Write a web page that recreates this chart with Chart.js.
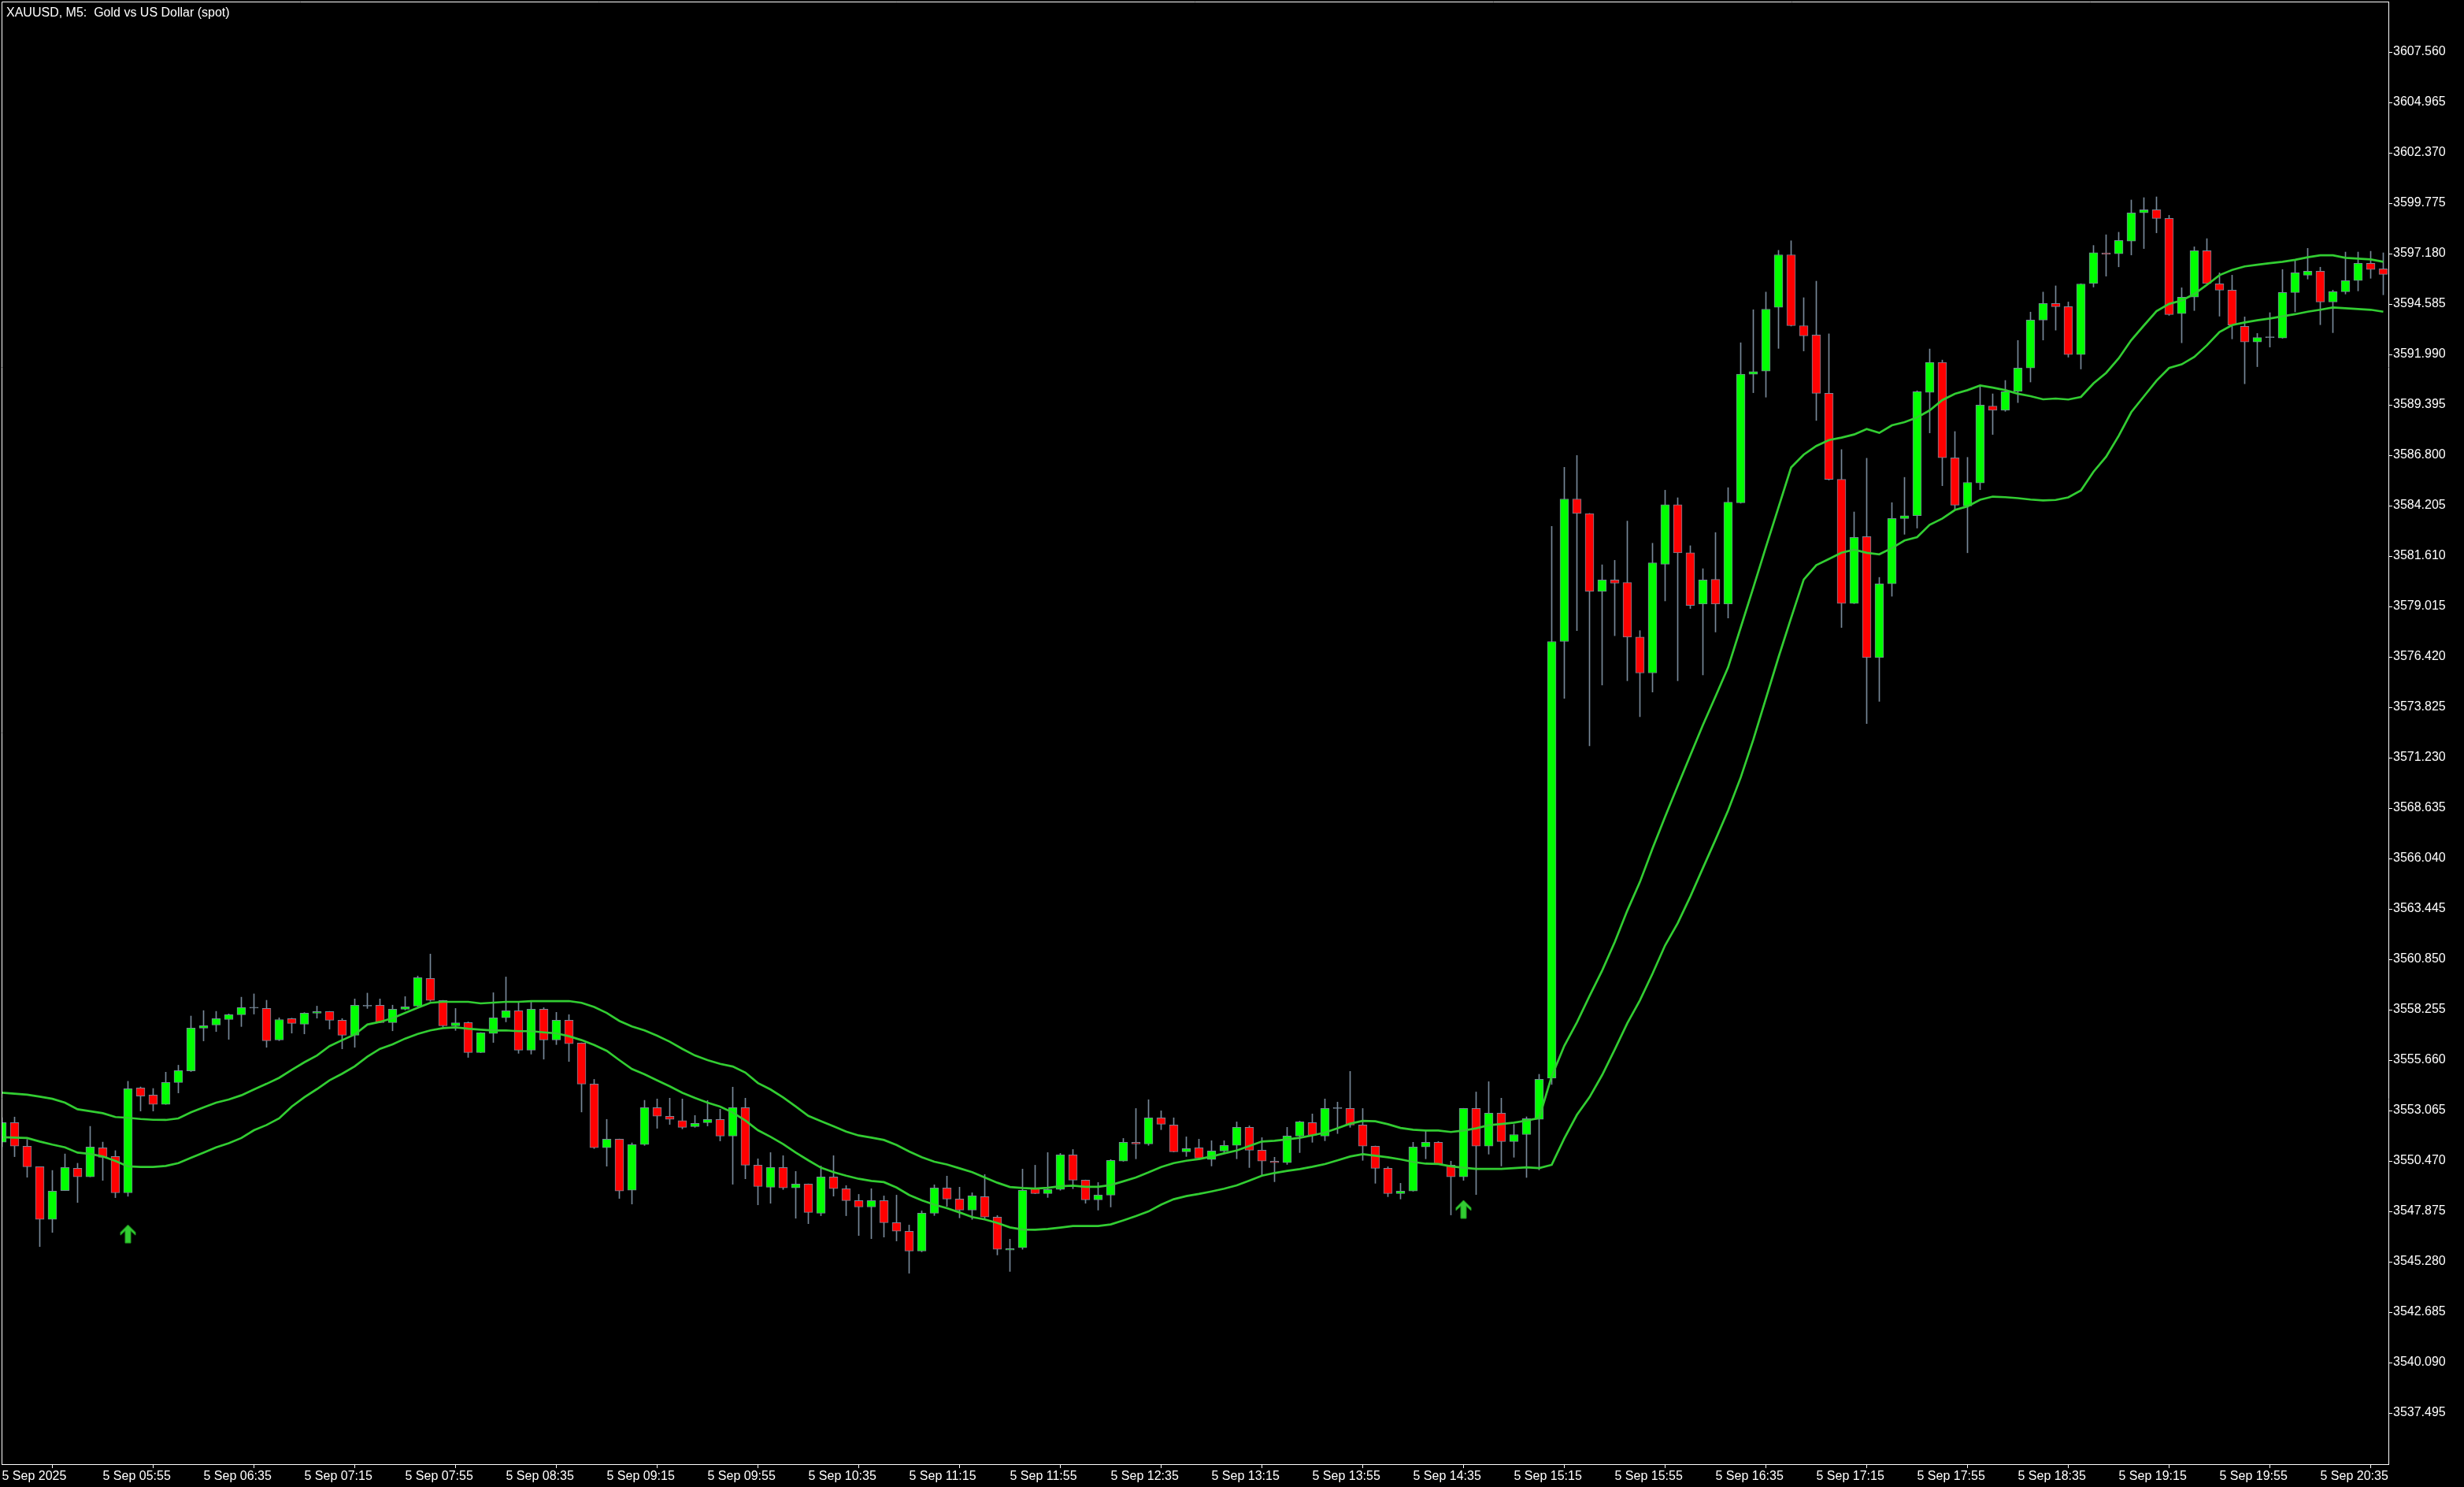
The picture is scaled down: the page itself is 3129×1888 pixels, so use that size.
<!DOCTYPE html>
<html>
<head>
<meta charset="utf-8">
<title>XAUUSD M5</title>
<script src="https://cdn.jsdelivr.net/npm/chart.js@4.4.0/dist/chart.umd.min.js"></script>
<style>
  html, body { margin: 0; padding: 0; background: #000; }
  canvas { display: block; }
</style>
</head>
<body>
<canvas id="chart" width="3129" height="1888"></canvas>
<script>
// XAUUSD M5, 5 Sep 2025 05:15 .. 21:00, one entry per bar
const opens = [
  3551.44, 3552.44, 3551.23, 3550.17, 3547.46, 3548.94, 3550.09, 3549.65, 3551.15, 3550.70,
  3548.83, 3554.23, 3553.86, 3553.38, 3554.51, 3555.11, 3557.31, 3557.47, 3557.75, 3558.00,
  3558.34, 3558.32, 3556.70, 3557.80, 3557.51, 3558.08, 3558.16, 3557.71, 3556.94, 3558.44,
  3558.49, 3557.59, 3558.28, 3558.44, 3559.86, 3558.73, 3557.43, 3557.59, 3556.05, 3557.03,
  3557.84, 3558.20, 3556.17, 3558.28, 3556.70, 3557.71, 3556.54, 3554.43, 3551.15, 3551.59,
  3548.96, 3551.31, 3553.21, 3552.77, 3552.55, 3552.24, 3552.44, 3552.61, 3551.75, 3553.21,
  3550.25, 3549.12, 3550.13, 3549.08, 3549.28, 3547.78, 3549.65, 3549.04, 3548.43, 3548.10,
  3548.43, 3547.29, 3546.85, 3545.83, 3547.78, 3549.08, 3548.51, 3547.94, 3548.63, 3547.58,
  3545.88, 3546.00, 3549.08, 3548.79, 3549.00, 3550.78, 3549.48, 3548.47, 3548.71, 3550.46,
  3551.43, 3551.35, 3552.69, 3552.32, 3550.94, 3551.15, 3550.54, 3550.98, 3551.27, 3552.20,
  3551.02, 3550.46, 3550.38, 3551.75, 3552.44, 3551.75, 3553.17, 3553.17, 3552.32, 3551.23,
  3550.09, 3548.79, 3548.92, 3551.19, 3551.43, 3550.25, 3549.65, 3553.17, 3551.23, 3552.93,
  3551.47, 3551.83, 3552.61, 3554.73, 3577.21, 3584.55, 3583.80, 3579.79, 3580.38, 3580.25,
  3577.44, 3575.59, 3581.19, 3584.25, 3581.78, 3579.14, 3580.41, 3579.14, 3584.35, 3590.97,
  3591.13, 3594.42, 3597.12, 3593.47, 3592.99, 3589.99, 3585.56, 3579.17, 3582.61, 3576.38,
  3580.18, 3583.54, 3583.69, 3590.04, 3591.58, 3586.67, 3584.19, 3585.37, 3589.33, 3589.11,
  3590.09, 3591.29, 3593.76, 3594.61, 3594.45, 3591.98, 3595.64, 3597.22, 3597.17, 3597.82,
  3599.28, 3599.44, 3598.99, 3594.09, 3594.94, 3597.33, 3595.63, 3595.30, 3593.44, 3592.63,
  3592.86, 3592.83, 3595.18, 3596.07, 3596.27, 3594.69, 3595.22, 3595.79, 3596.68, 3596.40
];
const highs = [
  3552.70, 3552.73, 3551.58, 3550.17, 3549.98, 3550.83, 3550.35, 3552.25, 3551.44, 3551.00,
  3554.57, 3554.28, 3554.20, 3555.04, 3555.40, 3557.93, 3558.21, 3558.17, 3558.04, 3558.90,
  3559.07, 3558.74, 3557.84, 3557.82, 3558.11, 3558.44, 3558.17, 3557.80, 3558.81, 3559.11,
  3558.81, 3558.49, 3558.93, 3559.99, 3561.12, 3558.74, 3558.32, 3557.63, 3557.08, 3559.13,
  3559.94, 3558.61, 3558.65, 3558.36, 3558.12, 3558.00, 3556.55, 3554.67, 3552.61, 3551.60,
  3551.40, 3553.59, 3553.66, 3553.70, 3553.66, 3552.81, 3553.58, 3553.13, 3554.27, 3553.70,
  3550.58, 3550.90, 3550.74, 3549.93, 3549.29, 3550.21, 3550.74, 3549.20, 3548.75, 3549.04,
  3548.67, 3548.71, 3547.17, 3547.90, 3549.24, 3549.69, 3549.12, 3548.83, 3549.77, 3547.66,
  3546.44, 3550.05, 3550.25, 3550.90, 3550.86, 3551.06, 3549.49, 3549.36, 3550.54, 3551.63,
  3553.17, 3553.62, 3553.05, 3552.69, 3551.71, 3551.59, 3551.51, 3551.51, 3552.48, 3552.28,
  3551.67, 3550.66, 3552.20, 3552.52, 3552.89, 3553.66, 3553.50, 3555.08, 3553.17, 3551.24,
  3550.17, 3549.32, 3551.43, 3552.00, 3551.47, 3550.46, 3553.18, 3554.02, 3554.55, 3553.70,
  3552.35, 3552.74, 3554.93, 3583.14, 3586.18, 3586.79, 3583.81, 3581.16, 3581.39, 3583.41,
  3577.77, 3582.27, 3585.00, 3584.61, 3582.14, 3580.96, 3582.82, 3585.13, 3592.59, 3594.29,
  3595.20, 3597.35, 3597.84, 3594.91, 3595.76, 3593.05, 3587.09, 3583.88, 3586.64, 3580.51,
  3584.36, 3585.66, 3590.12, 3592.27, 3591.70, 3588.02, 3586.69, 3590.39, 3589.96, 3590.65,
  3592.71, 3594.17, 3595.20, 3595.52, 3594.69, 3595.63, 3597.60, 3598.15, 3598.28, 3599.94,
  3600.06, 3600.10, 3599.15, 3595.42, 3597.53, 3597.95, 3596.19, 3596.07, 3593.92, 3593.07,
  3594.14, 3596.36, 3596.84, 3597.45, 3596.48, 3595.30, 3597.26, 3597.26, 3597.30, 3597.22
];
const lows = [
  3551.20, 3550.69, 3549.63, 3546.06, 3546.79, 3548.94, 3548.33, 3549.65, 3549.47, 3548.58,
  3548.65, 3553.04, 3553.04, 3553.38, 3553.97, 3555.07, 3556.65, 3557.13, 3556.73, 3557.39,
  3558.03, 3556.32, 3556.66, 3557.05, 3557.01, 3557.82, 3557.26, 3556.24, 3556.32, 3558.32,
  3557.58, 3557.17, 3558.24, 3558.43, 3558.69, 3557.36, 3557.19, 3555.80, 3556.04, 3556.57,
  3557.63, 3556.01, 3555.97, 3555.71, 3556.46, 3555.59, 3552.99, 3551.11, 3550.20, 3548.54,
  3548.25, 3551.27, 3552.15, 3552.35, 3552.12, 3552.20, 3552.27, 3551.50, 3549.27, 3549.55,
  3548.21, 3548.29, 3549.00, 3547.52, 3547.24, 3547.65, 3548.66, 3547.65, 3546.63, 3546.47,
  3546.55, 3546.35, 3544.69, 3545.79, 3547.66, 3548.13, 3547.54, 3547.46, 3547.50, 3545.63,
  3544.78, 3545.92, 3548.78, 3548.59, 3548.96, 3549.04, 3548.29, 3547.94, 3548.10, 3550.45,
  3550.58, 3551.27, 3552.08, 3550.93, 3550.70, 3550.54, 3550.21, 3550.90, 3550.58, 3550.13,
  3549.73, 3549.40, 3550.29, 3550.90, 3551.43, 3551.51, 3551.88, 3552.20, 3550.50, 3549.32,
  3548.63, 3548.51, 3548.91, 3550.58, 3550.28, 3547.69, 3549.47, 3548.74, 3550.82, 3550.21,
  3550.66, 3549.62, 3550.01, 3554.41, 3574.28, 3577.77, 3571.84, 3574.97, 3577.51, 3575.19,
  3573.34, 3574.61, 3579.30, 3575.19, 3578.91, 3575.49, 3577.70, 3578.42, 3584.33, 3590.02,
  3589.79, 3592.30, 3593.45, 3592.17, 3588.59, 3585.52, 3577.93, 3579.16, 3572.99, 3574.13,
  3579.54, 3582.73, 3583.05, 3587.95, 3585.23, 3584.02, 3581.78, 3585.03, 3587.87, 3589.06,
  3589.51, 3590.57, 3592.73, 3593.24, 3591.85, 3591.24, 3595.46, 3596.02, 3596.50, 3597.11,
  3597.44, 3598.25, 3594.00, 3592.59, 3594.25, 3595.63, 3593.96, 3592.79, 3590.48, 3591.36,
  3592.37, 3592.82, 3594.18, 3595.87, 3593.52, 3593.11, 3595.10, 3595.26, 3595.91, 3595.06
];
const closes = [
  3552.44, 3551.23, 3550.17, 3547.46, 3548.92, 3550.13, 3549.65, 3551.19, 3550.66, 3548.83,
  3554.19, 3553.81, 3553.38, 3554.51, 3555.12, 3557.31, 3557.43, 3557.80, 3558.00, 3558.36,
  3558.34, 3556.66, 3557.75, 3557.55, 3558.08, 3558.16, 3557.71, 3556.94, 3558.49, 3558.44,
  3557.59, 3558.28, 3558.40, 3559.90, 3558.73, 3557.43, 3557.58, 3556.05, 3557.07, 3557.84,
  3558.20, 3556.17, 3558.28, 3556.70, 3557.71, 3556.50, 3554.43, 3551.15, 3551.59, 3548.92,
  3551.31, 3553.21, 3552.77, 3552.61, 3552.20, 3552.40, 3552.61, 3551.75, 3553.21, 3550.25,
  3549.16, 3550.13, 3549.08, 3549.28, 3547.82, 3549.65, 3549.04, 3548.43, 3548.10, 3548.43,
  3547.29, 3546.85, 3545.83, 3547.78, 3549.08, 3548.51, 3547.94, 3548.67, 3547.58, 3545.92,
  3545.96, 3548.96, 3548.79, 3549.00, 3550.78, 3549.48, 3548.47, 3548.71, 3550.50, 3551.43,
  3551.35, 3552.69, 3552.36, 3550.94, 3551.11, 3550.62, 3550.98, 3551.27, 3552.20, 3551.02,
  3550.46, 3550.38, 3551.75, 3552.48, 3551.79, 3553.17, 3553.17, 3552.32, 3551.23, 3550.09,
  3548.79, 3548.92, 3551.19, 3551.43, 3550.29, 3549.65, 3553.17, 3551.23, 3552.93, 3551.47,
  3551.83, 3552.65, 3554.67, 3577.21, 3584.55, 3583.80, 3579.79, 3580.38, 3580.21, 3577.44,
  3575.59, 3581.26, 3584.25, 3581.78, 3579.07, 3580.38, 3579.14, 3584.38, 3590.97, 3591.10,
  3594.32, 3597.12, 3593.47, 3592.95, 3589.99, 3585.56, 3579.17, 3582.57, 3576.38, 3580.18,
  3583.54, 3583.69, 3590.07, 3591.58, 3586.67, 3584.23, 3585.40, 3589.38, 3589.11, 3590.07,
  3591.29, 3593.76, 3594.61, 3594.45, 3591.98, 3595.62, 3597.23, 3597.14, 3597.86, 3599.28,
  3599.44, 3598.99, 3594.04, 3594.94, 3597.33, 3595.64, 3595.30, 3593.50, 3592.63, 3592.86,
  3592.86, 3595.18, 3596.19, 3596.27, 3594.69, 3595.22, 3595.79, 3596.68, 3596.36, 3596.11
];
// the two green moving-average lines
const maUpper = [
  3553.98, 3553.93, 3553.88, 3553.78, 3553.67, 3553.47, 3553.13, 3553.03, 3552.93, 3552.73,
  3552.69, 3552.63, 3552.59, 3552.58, 3552.66, 3552.97, 3553.23, 3553.47, 3553.63, 3553.85,
  3554.15, 3554.44, 3554.75, 3555.16, 3555.55, 3555.90, 3556.38, 3556.69, 3556.98, 3557.49,
  3557.63, 3557.82, 3558.09, 3558.36, 3558.61, 3558.66, 3558.66, 3558.66, 3558.58, 3558.62,
  3558.66, 3558.66, 3558.70, 3558.70, 3558.70, 3558.70, 3558.61, 3558.40, 3558.09, 3557.68,
  3557.39, 3557.19, 3556.92, 3556.61, 3556.24, 3555.90, 3555.66, 3555.47, 3555.33, 3555.02,
  3554.48, 3554.15, 3553.74, 3553.27, 3552.79, 3552.52, 3552.25, 3551.98, 3551.78, 3551.67,
  3551.55, 3551.29, 3550.96, 3550.66, 3550.43, 3550.29, 3550.09, 3549.89, 3549.62, 3549.35,
  3549.13, 3549.08, 3549.05, 3549.09, 3549.17, 3549.20, 3549.14, 3549.14, 3549.23, 3549.42,
  3549.62, 3549.88, 3550.16, 3550.36, 3550.48, 3550.57, 3550.70, 3550.86, 3551.01, 3551.24,
  3551.47, 3551.51, 3551.58, 3551.66, 3551.79, 3551.93, 3552.15, 3552.39, 3552.53, 3552.51,
  3552.36, 3552.17, 3552.08, 3552.04, 3552.04, 3551.96, 3552.04, 3552.15, 3552.31, 3552.37,
  3552.44, 3552.55, 3552.68, 3554.83, 3556.40, 3557.60, 3558.96, 3560.27, 3561.73, 3563.36,
  3564.83, 3566.56, 3568.19, 3569.78, 3571.35, 3572.91, 3574.38, 3575.88, 3577.93, 3579.98,
  3582.07, 3584.12, 3586.17, 3586.83, 3587.28, 3587.58, 3587.71, 3587.87, 3588.15, 3587.95,
  3588.34, 3588.50, 3588.75, 3589.11, 3589.64, 3589.96, 3590.15, 3590.39, 3590.28, 3590.15,
  3589.97, 3589.84, 3589.68, 3589.72, 3589.67, 3589.80, 3590.50, 3591.04, 3591.79, 3592.73,
  3593.48, 3594.22, 3594.59, 3594.77, 3595.10, 3595.57, 3596.07, 3596.34, 3596.52, 3596.61,
  3596.69, 3596.76, 3596.86, 3596.99, 3597.09, 3597.09, 3596.96, 3596.92, 3596.88, 3596.76
];
const maLower = [
  3551.69, 3551.67, 3551.65, 3551.47, 3551.31, 3551.17, 3550.90, 3550.83, 3550.70, 3550.47,
  3550.19, 3550.16, 3550.16, 3550.21, 3550.36, 3550.63, 3550.90, 3551.17, 3551.38, 3551.65,
  3552.05, 3552.32, 3552.66, 3553.27, 3553.75, 3554.17, 3554.62, 3554.96, 3555.34, 3555.84,
  3556.24, 3556.47, 3556.77, 3557.01, 3557.19, 3557.31, 3557.35, 3557.28, 3557.23, 3557.19,
  3557.19, 3557.15, 3557.15, 3557.09, 3557.04, 3556.89, 3556.69, 3556.44, 3556.14, 3555.66,
  3555.20, 3554.93, 3554.62, 3554.31, 3553.98, 3553.71, 3553.47, 3553.27, 3552.96, 3552.55,
  3552.05, 3551.71, 3551.34, 3550.90, 3550.50, 3550.12, 3549.89, 3549.71, 3549.55, 3549.44,
  3549.38, 3549.10, 3548.72, 3548.44, 3548.22, 3548.04, 3547.82, 3547.58, 3547.46, 3547.28,
  3547.05, 3546.94, 3546.93, 3546.97, 3547.04, 3547.12, 3547.12, 3547.12, 3547.20, 3547.41,
  3547.63, 3547.87, 3548.22, 3548.50, 3548.66, 3548.77, 3548.90, 3549.04, 3549.21, 3549.46,
  3549.71, 3549.85, 3549.96, 3550.05, 3550.17, 3550.31, 3550.50, 3550.70, 3550.82, 3550.74,
  3550.66, 3550.55, 3550.42, 3550.33, 3550.31, 3550.19, 3550.12, 3550.06, 3550.06, 3550.06,
  3550.10, 3550.14, 3550.10, 3550.27, 3551.63, 3552.84, 3553.75, 3554.89, 3556.20, 3557.56,
  3558.74, 3560.11, 3561.57, 3562.71, 3564.08, 3565.55, 3567.01, 3568.51, 3570.21, 3572.16,
  3574.28, 3576.40, 3578.42, 3580.40, 3581.14, 3581.46, 3581.78, 3581.94, 3581.78, 3581.70,
  3582.02, 3582.41, 3582.58, 3583.22, 3583.54, 3583.98, 3584.17, 3584.51, 3584.67, 3584.64,
  3584.59, 3584.52, 3584.47, 3584.50, 3584.63, 3584.99, 3585.95, 3586.72, 3587.80, 3589.02,
  3589.83, 3590.64, 3591.29, 3591.48, 3591.86, 3592.46, 3593.14, 3593.50, 3593.64, 3593.75,
  3593.84, 3593.95, 3594.06, 3594.19, 3594.29, 3594.41, 3594.37, 3594.33, 3594.29, 3594.19
];
// buy arrows: bar index and price level
const signalBars = [10, 116];
const signalPrices = [3546.71, 3547.98];

// one time label every 8 bars, starting at bar 0
const xTickLabels = [
  '5 Sep 2025', '5 Sep 05:55', '5 Sep 06:35', '5 Sep 07:15', '5 Sep 07:55', '5 Sep 08:35',
  '5 Sep 09:15', '5 Sep 09:55', '5 Sep 10:35', '5 Sep 11:15', '5 Sep 11:55', '5 Sep 12:35',
  '5 Sep 13:15', '5 Sep 13:55', '5 Sep 14:35', '5 Sep 15:15', '5 Sep 15:55', '5 Sep 16:35',
  '5 Sep 17:15', '5 Sep 17:55', '5 Sep 18:35', '5 Sep 19:15', '5 Sep 19:55', '5 Sep 20:35'
];
const yTicks = [
  3537.495, 3540.090, 3542.685, 3545.280, 3547.875, 3550.470, 3553.065, 3555.660, 3558.255,
  3560.850, 3563.445, 3566.040, 3568.635, 3571.230, 3573.825, 3576.420, 3579.015, 3581.610,
  3584.205, 3586.800, 3589.395, 3591.990, 3594.585, 3597.180, 3599.775, 3602.370, 3604.965,
  3607.560
];

const UP = '#00ff00', DOWN = '#ff0000', EDGE = '#778899', MA = '#32cd32';

Chart.defaults.font.family = '"Liberation Sans", Arial, sans-serif';
Chart.defaults.font.size = 16;
Chart.defaults.color = '#ffffff';

// arrow glyph used as point style
const arrow = document.createElement('canvas');
arrow.width = 21; arrow.height = 25;
(function () {
  const g = arrow.getContext('2d');
  g.translate(10.5, 12.5);
  g.beginPath();
  g.moveTo(0, -11.5);
  g.lineTo(9.5, -2);
  g.lineTo(9.5, 1.5);
  g.lineTo(3.5, -4);
  g.lineTo(3.5, 11.5);
  g.lineTo(-3.5, 11.5);
  g.lineTo(-3.5, -4);
  g.lineTo(-9.5, 1.5);
  g.lineTo(-9.5, -2);
  g.closePath();
  g.fillStyle = MA;
  g.fill();
  g.strokeStyle = '#1f9e1f';
  g.lineWidth = 1;
  g.stroke();
})();

const bodies = opens.map((o, i) => ({ x: i, y: [o, closes[i]] }));
const wicks = lows.map((l, i) => ({ x: i, y: [l, highs[i]] }));
const upperPts = maUpper.map((v, i) => ({ x: i, y: v }));
const lowerPts = maLower.map((v, i) => ({ x: i, y: v }));
const signals = signalBars.map((b, i) => ({ x: b, y: signalPrices[i] }));

const frame = {
  id: 'frame',
  beforeDraw(chart) {
    const c = chart.ctx;
    c.save();
    c.fillStyle = '#000';
    c.fillRect(0, 0, chart.width, chart.height);
    c.restore();
  },
  afterDraw(chart) {
    const c = chart.ctx, a = chart.chartArea;
    c.save();
    c.strokeStyle = '#ffffff';
    c.lineWidth = 1;
    c.beginPath();
    c.moveTo(a.left + 0.5, a.bottom);
    c.lineTo(a.left + 0.5, a.top + 0.5);
    c.lineTo(a.right, a.top + 0.5);
    c.stroke();
    c.fillStyle = '#ffffff';
    c.font = '16px "Liberation Sans", Arial, sans-serif';
    c.textBaseline = 'alphabetic';
    c.fillText('XAUUSD, M5:  Gold vs US Dollar (spot)', 8, 21);
    c.restore();
  }
};

// keep the plot area fixed: no extra room for edge labels
const noEdgePadding = axis => {
  axis.paddingTop = 0; axis.paddingBottom = 0;
  axis.paddingLeft = 0; axis.paddingRight = 0;
};

new Chart(document.getElementById('chart').getContext('2d'), {
  type: 'bar',
  data: {
    datasets: [
      {
        type: 'scatter', data: signals, pointStyle: arrow,
        pointRadius: 0.5, pointBorderWidth: 0, pointHoverRadius: 0.5, pointHoverBorderWidth: 0, order: -1
      },
      {
        type: 'line', data: upperPts, borderColor: MA, borderWidth: 2.7,
        pointRadius: 0, pointHoverRadius: 0, pointBorderWidth: 0, tension: 0, order: 0
      },
      {
        type: 'line', data: lowerPts, borderColor: MA, borderWidth: 2.7,
        pointRadius: 0, pointHoverRadius: 0, pointBorderWidth: 0, tension: 0, order: 0
      },
      {
        type: 'bar', data: bodies, grouped: false, barThickness: 11, minBarLength: 1,
        borderWidth: 1, borderColor: EDGE, borderSkipped: false,
        backgroundColor: ctx => {
          const i = ctx.dataIndex;
          if (closes[i] > opens[i]) return UP;
          if (closes[i] < opens[i]) return DOWN;
          return EDGE;
        },
        order: 2
      },
      { type: 'bar', data: wicks, grouped: false, barThickness: 1, backgroundColor: EDGE, borderWidth: 0, order: 3 }
    ]
  },
  options: {
    responsive: false,
    animation: false,
    devicePixelRatio: 1,
    events: [],
    layout: { padding: { left: 2, top: 2, right: 0, bottom: 0 } },
    plugins: { legend: { display: false }, tooltip: { enabled: false } },
    scales: {
      x: {
        type: 'linear',
        min: -0.03125,
        max: 189.40625,
        offset: false,
        afterBuildTicks: axis => { axis.ticks = xTickLabels.map((t, k) => ({ value: k * 8 })); },
        afterFit: axis => { axis.height = 29; noEdgePadding(axis); },
        ticks: {
          align: 'start', autoSkip: false, maxRotation: 0, padding: 1, color: '#ffffff',
          callback: v => xTickLabels[Math.round(v / 8)]
        },
        grid: { drawOnChartArea: false, drawTicks: true, tickLength: 5, color: '#ffffff' },
        border: { display: true, color: '#ffffff', width: 1 }
      },
      y: {
        type: 'linear',
        position: 'right',
        min: 3534.860,
        max: 3610.155,
        afterBuildTicks: axis => { axis.ticks = yTicks.map(v => ({ value: v })); },
        afterFit: axis => { axis.width = 96; noEdgePadding(axis); },
        ticks: { padding: 1, color: '#ffffff', callback: v => v.toFixed(3) },
        grid: { drawOnChartArea: false, drawTicks: true, tickLength: 5, color: '#ffffff' },
        border: { display: true, color: '#ffffff', width: 1 }
      }
    }
  },
  plugins: [frame]
});
</script>
</body>
</html>
